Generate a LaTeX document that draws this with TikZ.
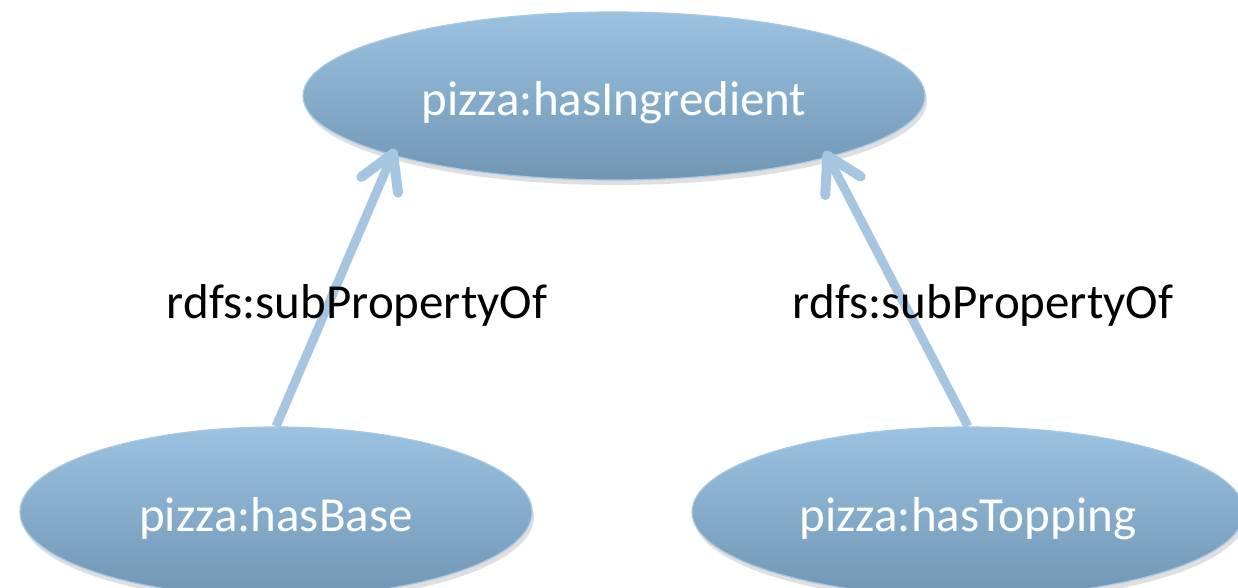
\documentclass[tikz,border=0pt]{standalone}
\usepackage{fontspec}
\setmainfont{Carlito}
\usetikzlibrary{arrows.meta,shapes.geometric,shadows}
\definecolor{ellTop}{HTML}{9CC2E2}
\definecolor{ellBot}{HTML}{7096B4}
\definecolor{ellLine}{HTML}{A8C7E3}
\definecolor{arrowBlue}{HTML}{A6C5E1}
\begin{document}
\begin{tikzpicture}[x=1pt,y=-1pt,
  prop/.style={ellipse, inner sep=0pt, draw=ellLine, line width=1.2pt,
    top color=ellTop, bottom color=ellBot, text=white,
    font=\fontsize{49pt}{49pt}\selectfont, text height=38pt, text depth=0pt,
    drop shadow={shadow xshift=2pt, shadow yshift=-5pt, opacity=0.25}},
  sub/.style={draw=arrowBlue, line width=9pt, shorten >=-7pt,
    -{Straight Barb[length=34pt,width=40pt,line width=10pt,round]}},
  lbl/.style={font=\fontsize{49pt}{49pt}\selectfont, text=black, anchor=base, inner sep=0pt}]
\useasboundingbox (0,0) rectangle (1238,587);
\fill[white] (0,0) rectangle (1238,587);

\node[prop, minimum width=622pt, minimum height=168pt] (hi) at (614,96) {pizza:hasIngredient};
\node[prop, minimum width=512pt, minimum height=170pt] (hb) at (276,512) {pizza:hasBase};
\node[prop, minimum width=552pt, minimum height=170pt] (ht) at (968,512) {pizza:hasTopping};

\draw[sub] (hb.north) -- (hi.195.9);
\draw[sub] (ht.north) -- (hi.344.9);

\node[lbl] (l1) at (357,318) {rdfs:subPropertyOf};
\node[lbl] (l2) at (983,318) {rdfs:subPropertyOf};
\end{tikzpicture}
\end{document}
